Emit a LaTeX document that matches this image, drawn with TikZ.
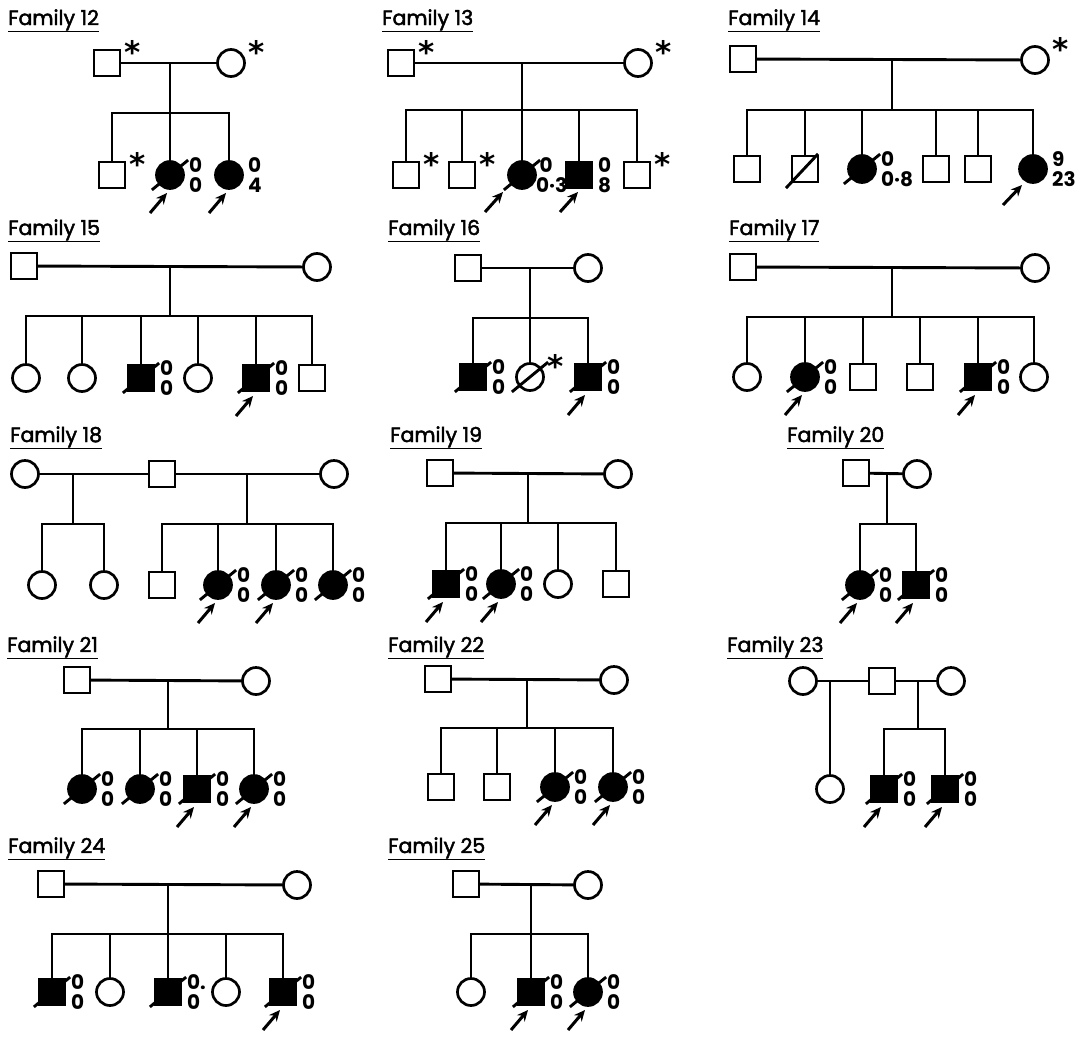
\documentclass[tikz,border=0pt]{standalone}
\usepackage{fontspec}
\setmainfont{Poppins}
\newfontfamily\medfont[FakeBold=2.2]{Poppins}
\newfontfamily\starfont{DejaVu Sans}
\usetikzlibrary{arrows.meta}
\tikzset{
 ln/.style={line width=2.9pt, line cap=rect},
 male/.style={draw, rectangle, minimum size=26pt, inner sep=0pt, line width=2.7pt},
 female/.style={draw, circle, minimum size=27pt, inner sep=0pt, line width=2.7pt},
 aff/.style={fill=black},
 lab/.style={anchor=west, align=left, font=\bfseries\fontsize{20}{20}\selectfont, inner sep=0pt},
 ttl/.style={anchor=base west, font=\medfont\fontsize{20.5}{22}\selectfont, inner sep=0pt},
 star/.style={anchor=north, font=\starfont\bfseries\fontsize{31}{31}\selectfont, inner sep=0pt},
 proband/.style={line width=3pt, -{Stealth[length=11pt,width=10pt]}},
}
\newcommand{\dead}[1]{\draw[ln] ([shift={(-17,14)}]#1.center) -- ([shift={(17,-14)}]#1.center);}
\newcommand{\prob}[1]{\draw[proband] ([shift={(-20,38)}]#1.center) -- ([shift={(-3,18)}]#1.center);}
\newcommand{\labs}[3]{\node[lab] (#1l) at ([shift={(19,0)}]#1.center) {#2\\#3};}
\newcommand{\astk}[1]{\node[star] (#1s) at ([shift={(26,-23)}]#1.center) {*};}
\begin{document}
\begin{tikzpicture}[x=1pt,y=-1pt]
\useasboundingbox (0,0) rectangle (1077,1042);
% ---------------- Family 12
\node[ttl] (tA) at (8,25) {\underline{Family 12}};
\node[male] (A1) at (107,63) {}; \astk{A1}
\node[female] (A2) at (231,63) {}; \astk{A2}
\draw[ln] (A1) -- (A2);
\coordinate (Am) at (170,63); \coordinate (Ab) at (170,113);
\draw[ln] (Am) -- (Ab);
\node[male] (A3) at (112,175) {}; \astk{A3}
\node[female,aff] (A4) at (170,175) {}; \dead{A4} \labs{A4}{0}{0} \prob{A4}
\node[female,aff] (A5) at (229,175) {}; \labs{A5}{0}{4} \prob{A5}
\foreach \nn in {A3,A4,A5} {\draw[ln] (\nn.north |- Ab) -- (\nn.north);}
\draw[ln] (A3.north |- Ab) -- (A5.north |- Ab);
% ---------------- Family 13
\node[ttl] (tB) at (382,25) {\underline{Family 13}};
\node[male] (B1) at (401,63) {}; \astk{B1}
\node[female] (B2) at (638,63) {}; \astk{B2}
\draw[ln] (B1) -- (B2);
\coordinate (Bm) at (522,63); \coordinate (Bb) at (522,110);
\draw[ln] (Bm) -- (Bb);
\node[male] (B3) at (406,175) {}; \astk{B3}
\node[male] (B4) at (462,175) {}; \astk{B4}
\node[female,aff] (B5) at (522,175) {}; \dead{B5}
\node[lab] (B5l) at ([shift={(14,0)}]B5.center) {\,0\\0·3};
\node[male,aff] (B6) at (579,175) {}; \labs{B6}{0}{8}
\node[male] (B7) at (637,175) {}; \astk{B7}
\draw[proband] ([shift={(-37,37)}]B5.center) -- ([shift={(-19,17)}]B5.center);
\draw[proband] ([shift={(-19,37)}]B6.center) -- ([shift={(-1,17)}]B6.center);
\foreach \nn in {B3,B4,B5,B6,B7} {\draw[ln] (\nn.north |- Bb) -- (\nn.north);}
\draw[ln] (B3.north |- Bb) -- (B7.north |- Bb);
% ---------------- Family 14
\node[ttl] (tC) at (728,25) {\underline{Family 14}};
\node[male] (C1) at (743,59) {};
\node[female] (C2) at (1035,60) {}; \astk{C2}
\draw[ln] (C1) -- (C2);
\coordinate (Cm) at (892,60); \coordinate (Cb) at (892,110);
\draw[ln] (Cm) -- (Cb);
\node[male] (C3) at (747,169) {};
\node[male] (C4) at (805,169) {}; \draw[ln] ([shift={(-18,18)}]C4.center) -- ([shift={(12,-14)}]C4.center);
\node[female,aff] (C5) at (862,169) {}; \dead{C5}
\node[lab] (C5l) at ([shift={(19,0)}]C5.center) {0\\0·8};
\node[male] (C6) at (936,169) {};
\node[male] (C7) at (978,169) {};
\node[female,aff] (C8) at (1033,169) {};
\node[lab] (C8l) at ([shift={(19,0)}]C8.center) {9\\23};
\draw[proband] ([shift={(-30,36)}]C8.center) -- ([shift={(-11,16)}]C8.center);
\foreach \nn in {C3,C4,C5,C6,C7,C8} {\draw[ln] (\nn.north |- Cb) -- (\nn.north);}
\draw[ln] (C3.north |- Cb) -- (C8.north |- Cb);
% ---------------- Family 15
\node[ttl] (tD) at (8,235) {\underline{Family 15}};
\node[male] (D1) at (24,266) {};
\node[female] (D2) at (317,267) {};
\draw[ln] (D1) -- (D2);
\coordinate (Dm) at (170,267); \coordinate (Db) at (170,316);
\draw[ln] (Dm) -- (Db);
\node[female] (D3) at (26,378) {};
\node[female] (D4) at (82,378) {};
\node[male,aff] (D5) at (141,378) {}; \dead{D5} \labs{D5}{0}{0}
\node[female] (D6) at (198,378) {};
\node[male,aff] (D7) at (256,378) {}; \dead{D7} \labs{D7}{0}{0} \prob{D7}
\node[male] (D8) at (312,378) {};
\foreach \nn in {D3,D4,D5,D6,D7,D8} {\draw[ln] (\nn.north |- Db) -- (\nn.north);}
\draw[ln] (D3.north |- Db) -- (D8.north |- Db);
% ---------------- Family 16
\node[ttl] (tE) at (388,235) {\underline{Family 16}};
\node[male] (E1) at (468,268) {};
\node[female] (E2) at (588,268) {};
\draw[ln] (E1) -- (E2);
\coordinate (Em) at (530,268); \coordinate (Eb) at (530,318);
\draw[ln] (Em) -- (Eb);
\node[male,aff] (E3) at (473,377) {}; \dead{E3} \labs{E3}{0}{0}
\node[female] (E4) at (530,377) {}; \dead{E4} \astk{E4}
\node[male,aff] (E5) at (588,377) {}; \dead{E5} \labs{E5}{0}{0} \prob{E5}
\foreach \nn in {E3,E4,E5} {\draw[ln] (\nn.north |- Eb) -- (\nn.north);}
\draw[ln] (E3.north |- Eb) -- (E5.north |- Eb);
% ---------------- Family 17
\node[ttl] (tF) at (729,235) {\underline{Family 17}};
\node[male] (F1) at (743,267) {};
\node[female] (F2) at (1035,268) {};
\draw[ln] (F1) -- (F2);
\coordinate (Fm) at (892,268); \coordinate (Fb) at (892,317);
\draw[ln] (Fm) -- (Fb);
\node[female] (F3) at (747,377) {};
\node[female,aff] (F4) at (805,377) {}; \dead{F4} \labs{F4}{0}{0} \prob{F4}
\node[male] (F5) at (863,377) {};
\node[male] (F6) at (920,377) {};
\node[male,aff] (F7) at (978,377) {}; \dead{F7} \labs{F7}{0}{0} \prob{F7}
\node[female] (F8) at (1034,377) {};
\foreach \nn in {F3,F4,F5,F6,F7,F8} {\draw[ln] (\nn.north |- Fb) -- (\nn.north);}
\draw[ln] (F3.north |- Fb) -- (F8.north |- Fb);
% ---------------- Family 18
\node[ttl] (tG) at (10,442) {\underline{Family 18}};
\node[female] (G1) at (25,474) {};
\node[male] (G2) at (162,474) {};
\node[female] (G3) at (334,474) {};
\draw[ln] (G1) -- (G2); \draw[ln] (G2) -- (G3);
\coordinate (Gm) at (73,474); \coordinate (Gb) at (73,524);
\coordinate (Gn) at (247,474); \coordinate (Gc) at (247,524);
\draw[ln] (Gm) -- (Gb); \draw[ln] (Gn) -- (Gc);
\node[female] (G4) at (42,585) {};
\node[female] (G5) at (104,585) {};
\node[male] (G6) at (162,585) {};
\node[female,aff] (G7) at (218,585) {}; \dead{G7} \labs{G7}{0}{0} \prob{G7}
\node[female,aff] (G8) at (276,585) {}; \dead{G8} \labs{G8}{0}{0} \prob{G8}
\node[female,aff] (G9) at (333,585) {}; \dead{G9} \labs{G9}{0}{0}
\foreach \nn in {G4,G5} {\draw[ln] (\nn.north |- Gb) -- (\nn.north);}
\draw[ln] (G4.north |- Gb) -- (G5.north |- Gb);
\foreach \nn in {G6,G7,G8,G9} {\draw[ln] (\nn.north |- Gc) -- (\nn.north);}
\draw[ln] (G6.north |- Gc) -- (G9.north |- Gc);
% ---------------- Family 19
\node[ttl] (tH) at (390,442) {\underline{Family 19}};
\node[male] (H1) at (440,473) {};
\node[female] (H2) at (618,474) {};
\draw[ln] (H1) -- (H2);
\coordinate (Hm) at (528,474); \coordinate (Hb) at (528,523);
\draw[ln] (Hm) -- (Hb);
\node[male,aff] (H3) at (446,584) {}; \dead{H3} \labs{H3}{0}{0} \prob{H3}
\node[female,aff] (H4) at (501,584) {}; \dead{H4} \labs{H4}{0}{0} \prob{H4}
\node[female] (H5) at (558,584) {};
\node[male] (H6) at (616,584) {};
\foreach \nn in {H3,H4,H5,H6} {\draw[ln] (\nn.north |- Hb) -- (\nn.north);}
\draw[ln] (H3.north |- Hb) -- (H6.north |- Hb);
% ---------------- Family 20
\node[ttl] (tI) at (787,442) {\underline{Family 20}};
\node[male] (I1) at (856,473) {};
\node[female] (I2) at (917,474) {};
\draw[ln] (I1) -- (I2);
\coordinate (Im) at (887,474); \coordinate (Ib) at (887,524);
\draw[ln] (Im) -- (Ib);
\node[female,aff] (I3) at (860,585) {}; \dead{I3} \labs{I3}{0}{0} \prob{I3}
\node[male,aff] (I4) at (916,585) {}; \dead{I4} \labs{I4}{0}{0} \prob{I4}
\foreach \nn in {I3,I4} {\draw[ln] (\nn.north |- Ib) -- (\nn.north);}
\draw[ln] (I3.north |- Ib) -- (I4.north |- Ib);
% ---------------- Family 21
\node[ttl] (tJ) at (7,652) {\underline{Family 21}};
\node[male] (J1) at (77,680) {};
\node[female] (J2) at (256,681) {};
\draw[ln] (J1) -- (J2);
\coordinate (Jm) at (168,681); \coordinate (Jb) at (168,729);
\draw[ln] (Jm) -- (Jb);
\node[female,aff] (J3) at (82,789) {}; \dead{J3} \labs{J3}{0}{0}
\node[female,aff] (J4) at (140,789) {}; \dead{J4} \labs{J4}{0}{0}
\node[male,aff] (J5) at (197,789) {}; \dead{J5} \labs{J5}{0}{0} \prob{J5}
\node[female,aff] (J6) at (254,789) {}; \dead{J6} \labs{J6}{0}{0} \prob{J6}
\foreach \nn in {J3,J4,J5,J6} {\draw[ln] (\nn.north |- Jb) -- (\nn.north);}
\draw[ln] (J3.north |- Jb) -- (J6.north |- Jb);
% ---------------- Family 22
\node[ttl] (tK) at (388,652) {\underline{Family 22}};
\node[male] (K1) at (438,679) {};
\node[female] (K2) at (614,680) {};
\draw[ln] (K1) -- (K2);
\coordinate (Km) at (527,680); \coordinate (Kb) at (527,728);
\draw[ln] (Km) -- (Kb);
\node[male] (K3) at (441,787) {};
\node[male] (K4) at (497,787) {};
\node[female,aff] (K5) at (555,787) {}; \dead{K5} \labs{K5}{0}{0} \prob{K5}
\node[female,aff] (K6) at (613,787) {}; \dead{K6} \labs{K6}{0}{0} \prob{K6}
\foreach \nn in {K3,K4,K5,K6} {\draw[ln] (\nn.north |- Kb) -- (\nn.north);}
\draw[ln] (K3.north |- Kb) -- (K6.north |- Kb);
% ---------------- Family 23
\node[ttl] (tL) at (727,652) {\underline{Family 23}};
\node[female] (L1) at (803,681) {};
\node[male] (L2) at (882,681) {};
\node[female] (L3) at (951,681) {};
\draw[ln] (L1) -- (L2); \draw[ln] (L2) -- (L3);
\coordinate (Lm) at (830,681);
\coordinate (Ln) at (918,681); \coordinate (Lb) at (918,729);
\node[female] (L4) at (830,789) {};
\draw[ln] (Lm) -- (L4);
\draw[ln] (Ln) -- (Lb);
\node[male,aff] (L5) at (884,789) {}; \dead{L5} \labs{L5}{0}{0} \prob{L5}
\node[male,aff] (L6) at (945,789) {}; \dead{L6} \labs{L6}{0}{0} \prob{L6}
\foreach \nn in {L5,L6} {\draw[ln] (\nn.north |- Lb) -- (\nn.north);}
\draw[ln] (L5.north |- Lb) -- (L6.north |- Lb);
% ---------------- Family 24
\node[ttl] (tM) at (8,853) {\underline{Family 24}};
\node[male] (M1) at (51,884) {};
\node[female] (M2) at (297,885) {};
\draw[ln] (M1) -- (M2);
\coordinate (Mm) at (168,885); \coordinate (Mb) at (168,934);
\draw[ln] (Mm) -- (Mb);
\node[male,aff] (M3) at (52,992) {}; \dead{M3} \labs{M3}{0}{0}
\node[female] (M4) at (110,992) {};
\node[male,aff] (M5) at (168,992) {}; \dead{M5} \labs{M5}{0.}{0}
\node[female] (M6) at (226,992) {};
\node[male,aff] (M7) at (283,992) {}; \dead{M7} \labs{M7}{0}{0} \prob{M7}
\foreach \nn in {M3,M4,M5,M6,M7} {\draw[ln] (\nn.north |- Mb) -- (\nn.north);}
\draw[ln] (M3.north |- Mb) -- (M7.north |- Mb);
% ---------------- Family 25
\node[ttl] (tN) at (388,853) {\underline{Family 25}};
\node[male] (N1) at (466,884) {};
\node[female] (N2) at (588,885) {};
\draw[ln] (N1) -- (N2);
\coordinate (Nm) at (531,885); \coordinate (Nb) at (531,934);
\draw[ln] (Nm) -- (Nb);
\node[female] (N3) at (471,992) {};
\node[male,aff] (N4) at (531,992) {}; \dead{N4} \labs{N4}{0}{0} \prob{N4}
\node[female,aff] (N5) at (588,992) {}; \dead{N5} \labs{N5}{0}{0} \prob{N5}
\foreach \nn in {N3,N4,N5} {\draw[ln] (\nn.north |- Nb) -- (\nn.north);}
\draw[ln] (N3.north |- Nb) -- (N5.north |- Nb);
\end{tikzpicture}
\end{document}
